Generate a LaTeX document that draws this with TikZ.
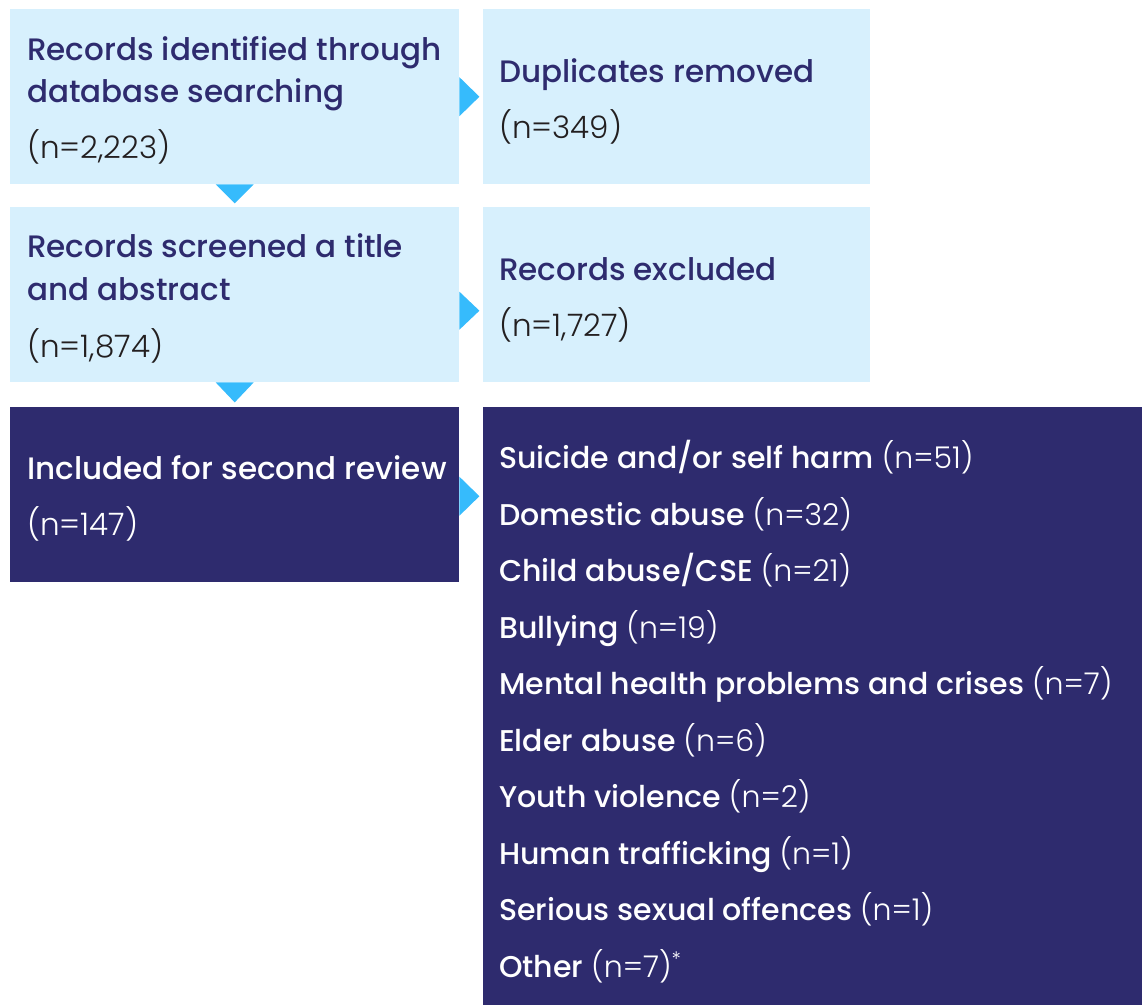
\documentclass[tikz,border=0pt]{standalone}
\usepackage{fontspec}
\setmainfont{Poppins}
\newfontfamily\medfont{Poppins Medium}
\newfontfamily\lightfont{Poppins Light}
\usetikzlibrary{calc}
\definecolor{navy}{RGB}{46,43,110}
\definecolor{pale}{RGB}{215,240,253}
\definecolor{sky}{RGB}{54,187,252}
\definecolor{ink}{RGB}{35,31,32}
\begin{document}
\begin{tikzpicture}[x=1pt,y=-1pt,
  box/.style={draw=none, inner sep=0pt, anchor=north west, minimum height=175pt},
  narrow/.style={box, minimum width=449pt},
  wide/.style={box, minimum width=387pt},
  palebox/.style={fill=pale},
  darkbox/.style={fill=navy},
  txt/.style={anchor=base west, inner sep=0pt, font=\fontsize{31}{31}\selectfont\medfont},
  head/.style={txt, text=navy},
  count/.style={txt, text=ink, font=\fontsize{31}{31}\selectfont\lightfont},
  whitetxt/.style={txt, text=white},
  whitecount/.style={txt, text=white, font=\fontsize{31}{31}\selectfont\lightfont},
  listtxt/.style={whitetxt, font=\fontsize{30}{30}\selectfont\medfont},
  tri/.style={fill=sky}
]
\useasboundingbox (0,0) rectangle (1142,1005);

% boxes
\node[narrow, palebox] (b1) at (10,9) {};
\node[wide, palebox]   (b2) at (483,9) {};
\node[narrow, palebox] (b3) at (10,207) {};
\node[wide, palebox]   (b4) at (483,207) {};
\node[narrow, darkbox] (b5) at (10,407) {};
\node[box, darkbox, minimum width=659pt, minimum height=598pt] (b6) at (483,407) {};

% pointers between boxes
\fill[tri] ($(b1.east)+(0,-19.5)$) -- ($(b1.east)+(20,0)$) -- ($(b1.east)+(0,19.5)$) -- cycle;
\fill[tri] ($(b3.east)+(0,-3)$) -- ($(b3.east)+(20,16)$) -- ($(b3.east)+(0,35)$) -- cycle;
\fill[tri] ($(b5.east)+(0,-18)$) -- ($(b5.east)+(20,1.5)$) -- ($(b5.east)+(0,21)$) -- cycle;
\fill[tri] ($(b1.south)+(-19,0)$) -- ($(b1.south)+(0,19)$) -- ($(b1.south)+(19,0)$) -- cycle;
\fill[tri] ($(b3.south)+(-19,0)$) -- ($(b3.south)+(0,20)$) -- ($(b3.south)+(19,0)$) -- cycle;

% texts, first row
\node[head]  (t1a) at (27,60)  {Records identified through};
\node[head]  (t1b) at (27,102) {database searching};
\node[count] (t1c) at (27,158) {(n=2,223)};
\node[head]  (t2a) at (499,82)  {Duplicates removed};
\node[count] (t2b) at (499,138) {(n=349)};

% second row
\node[head]  (t3a) at (27,257) {Records screened a title};
\node[head]  (t3b) at (27,300) {and abstract};
\node[count] (t3c) at (27,357) {(n=1,874)};
\node[head]  (t4a) at (499,280) {Records excluded};
\node[count] (t4b) at (499,336) {(n=1,727)};

% third row
\node[whitetxt]   (t5a) at (27,479) {Included for second review};
\node[whitecount] (t5b) at (27,535) {(n=147)};

\foreach \lbl/\n [count=\i from 0] in {
  {Suicide and/or self harm}/51,
  {Domestic abuse}/32,
  {Child abuse/CSE}/21,
  {Bullying}/19,
  {Mental health problems and crises}/7,
  {Elder abuse}/6,
  {Youth violence}/2,
  {Human trafficking}/1,
  {Serious sexual offences}/1}
  \node[listtxt] (L\i) at (499,{468.5+56.5*\i}) {\lbl{} {\lightfont (n=\n)}};
\node[listtxt] (L9) at (499,977) {Other {\lightfont (n=7)\raisebox{0.35em}{\fontsize{20}{20}\selectfont *}}};
\end{tikzpicture}
\end{document}
